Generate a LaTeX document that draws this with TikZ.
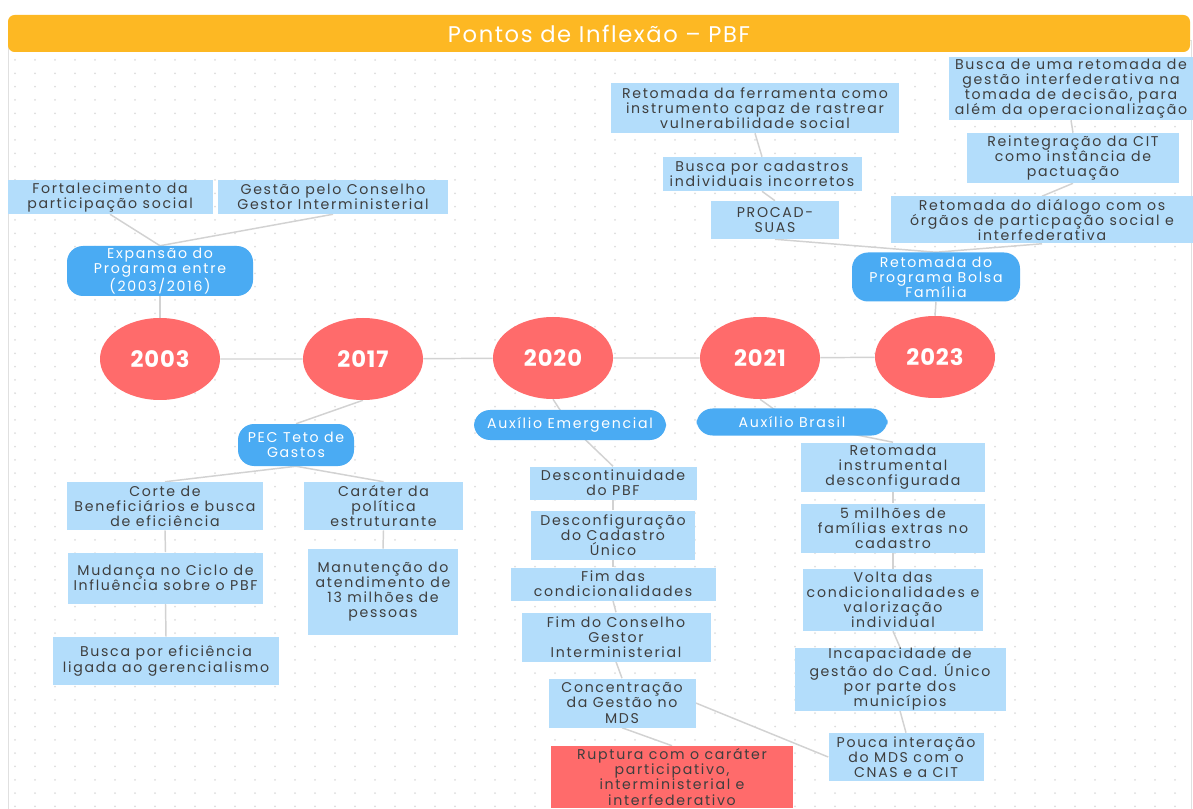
\documentclass[tikz,border=0pt]{standalone}
\usepackage{fontspec}
\setmainfont{Poppins}[LetterSpace=12]
\usepackage{tikz}
\usetikzlibrary{shapes, positioning}
\pgfdeclarelayer{bg}
\pgfsetlayers{bg,main}
\definecolor{barorange}{HTML}{FDB823}
\definecolor{yearred}{HTML}{FF6B6B}
\definecolor{topicblue}{HTML}{4AABF3}
\definecolor{leafblue}{HTML}{B3DDFB}
\definecolor{leaftext}{HTML}{3E3E3E}
\definecolor{linkgray}{HTML}{D2D2D2}
\definecolor{dotgray}{HTML}{DDDDDD}

\begin{document}
\begin{tikzpicture}[x=0.75pt, y=-0.75pt,
	wh/.style 2 args={minimum width=#1*0.75pt, minimum height=#2*0.75pt},
	year/.style={ellipse, fill=yearred, text=white, inner sep=0pt,
		minimum width=90pt, minimum height=61.5pt,
		font=\fontsize{17}{19}\selectfont\bfseries\addfontfeature{LetterSpace=4}},
	topic/.style={rectangle, rounded corners=12pt, fill=topicblue, text=white,
		inner sep=0pt, align=center, font=\fontsize{10.6}{11.3}\selectfont},
	leaf/.style={rectangle, fill=leafblue, text=leaftext, inner sep=0pt,
		align=center, font=\fontsize{10.6}{11.3}\selectfont},
	link/.style={draw=linkgray, line width=1.1pt}]
		
		% page and dotted canvas
		\useasboundingbox (0,0) rectangle (1193,809);
		\begin{pgfonlayer}{bg}
		\fill[white] (0,0) rectangle (1193,809);
		\draw[black!12, fill=white] (8,40) rectangle (1191,830);
		\foreach \i in {0,...,58}
		\foreach \j in {0,...,56}
		\fill[dotgray] (15+20*\i, 60+13.33*\j) circle (0.75pt);
		\end{pgfonlayer}
		
		% title bar
		\node[rectangle, rounded corners=5pt, fill=barorange, text=white, wh={1182}{37},
		font=\fontsize{17}{18}\selectfont\addfontfeature{LetterSpace=7}] (title) at (599,33.5) {Pontos de Inflexão -- PBF};
		
		% years on the time line
		\node[year] (y2003) at (160,359) {2003};
		\node[year] (y2017) at (363,359) {2017};
		\node[year] (y2020) at (553,358) {2020};
		\node[year] (y2021) at (760,358) {2021};
		\node[year] (y2023) at (935,357) {2023};
		
		% 2003
		\node[topic, wh={186}{50}] (expansao) at (160,271) {Expansão do\\Programa entre\\(2003/2016)};
		\node[leaf, wh={205}{34}] (fort) at (110,197) {Fortalecimento da\\participação social};
		\node[leaf, wh={230}{34}] (gestao) at (333,197) {Gestão pelo Conselho\\Gestor Interministerial};
		
		% 2023
		\node[topic, wh={168}{49}] (retomada) at (936,277) {Retomada do\\Programa Bolsa\\Família};
		\node[leaf, wh={288}{50}] (ferram) at (755,108) {Retomada da ferramenta como\\instrumento capaz de rastrear\\vulnerabilidade social};
		\node[leaf, wh={199}{34}] (cadastros) at (762,174) {Busca por cadastros\\individuais incorretos};
		\node[leaf, wh={128}{38}] (procad) at (775,220) {PROCAD-\\SUAS};
		\node[leaf, wh={244}{63}] (buscaret) at (1071,88.5) {Busca de uma retomada de\\gestão interfederativa na\\tomada de decisão, para\\além da operacionalização};
		\node[leaf, wh={212}{50}] (reinteg) at (1073,158) {Reintegração da CIT\\como instância de\\pactuação};
		\node[leaf, wh={302}{47}] (dialogo) at (1042,220) {Retomada do diálogo com os\\órgãos de particpação social e\\interfederativa};
		
		% 2017
		\node[topic, wh={116}{42}] (pec) at (296,445) {PEC Teto de\\Gastos};
		\node[leaf, wh={196}{48}] (corte) at (165,506) {Corte de\\Beneficiários e busca\\de eficiência};
		\node[leaf, wh={195}{51}] (mudanca) at (165.5,578) {Mudança no Ciclo de\\Influência sobre o PBF};
		\node[leaf, wh={226}{48}] (buscaef) at (166,661) {Busca por eficiência\\ligada ao gerencialismo};
		\node[leaf, wh={159}{48}] (carater) at (383.5,506) {Caráter da\\política\\estruturante};
		\node[leaf, wh={150}{86}] (manut) at (383,592) {Manutenção do\\atendimento de\\13 milhões de\\pessoas};
		
		% 2020
		\node[topic, wh={192}{30}] (auxemerg) at (570,425) {Auxílio Emergencial};
		\node[leaf, wh={167}{33}] (descont) at (613,483) {Descontinuidade\\do PBF};
		\node[leaf, wh={164}{49}] (desconf) at (613,535) {Desconfiguração\\do Cadastro\\Único};
		\node[leaf, wh={205}{33}] (fimcond) at (613,584) {Fim das\\condicionalidades};
		\node[leaf, wh={189}{49}] (fimconselho) at (616,637) {Fim do Conselho\\Gestor\\Interministerial};
		\node[leaf, wh={147}{49}] (concentr) at (622,703) {Concentração\\da Gestão no\\MDS};
		\node[leaf, fill=yearred, wh={242}{62}] (ruptura) at (672,777) {Ruptura com o caráter\\participativo,\\interministerial e\\interfederativo};
		
		% 2021
		\node[topic, wh={191}{27}] (auxbrasil) at (792,422) {Auxílio Brasil};
		\node[leaf, wh={184}{49}] (retinstr) at (893,467) {Retomada\\instrumental\\desconfigurada};
		\node[leaf, wh={184}{49}] (cincomi) at (893,528) {5 milhões de\\famílias extras no\\cadastro};
		\node[leaf, wh={180}{62}] (volta) at (893,600) {Volta das\\condicionalidades e\\valorização\\individual};
		\node[leaf, wh={211}{63}] (incapac) at (900,679) {Incapacidade de\\gestão do Cad. Único\\por parte dos\\municípios};
		\node[leaf, wh={155}{48}] (pouca) at (906,757) {Pouca interação\\do MDS com o\\CNAS e a CIT};
		
		% connectors
		\begin{pgfonlayer}{bg}
		\draw[link] (y2003) -- (y2017) -- (y2020) -- (y2021) -- (y2023);
		\draw[link] (fort.south) -- (expansao.north);
		\draw[link] (gestao.south) -- (expansao.north);
		\draw[link] (expansao.south) -- (y2003.north);
		\draw[link] (ferram.south) -- (cadastros.north);
		\draw[link] (cadastros.south) -- (procad.north);
		\draw[link] (procad.south) -- (retomada.north);
		\draw[link] (buscaret.south) -- (reinteg.north);
		\draw[link] (reinteg.south) -- (dialogo.north);
		\draw[link] (dialogo.south) -- (retomada.north);
		\draw[link] (retomada.south) -- (y2023.north);
		\draw[link] (y2017.south) -- (pec.north);
		\draw[link] (pec.south) -- (corte.north);
		\draw[link] (pec.south) -- (carater.north);
		\draw[link] (corte.south) -- (mudanca.north);
		\draw[link] (mudanca.south) -- (buscaef.north);
		\draw[link] (carater.south) -- (manut.north);
		\draw[link] (y2020.south) -- (auxemerg.center);
		\draw[link] (auxemerg.center) -- (descont.north);
		\draw[link] (descont.south) -- (desconf.north);
		\draw[link] (desconf.south) -- (fimcond.north);
		\draw[link] (fimcond.south) -- (fimconselho.north);
		\draw[link] (fimconselho.south) -- (concentr.north);
		\draw[link] (concentr.south) -- (ruptura.north);
		\draw[link] (concentr.east) -- (pouca.west);
		\draw[link] (y2021.south) -- (auxbrasil.center);
		\draw[link] (auxbrasil.center) -- (retinstr.north);
		\draw[link] (retinstr.south) -- (cincomi.north);
		\draw[link] (cincomi.south) -- (volta.north);
		\draw[link] (volta.south) -- (incapac.north);
		\draw[link] (incapac.south) -- (pouca.north);
		\end{pgfonlayer}
		
	\end{tikzpicture}
\end{document}
